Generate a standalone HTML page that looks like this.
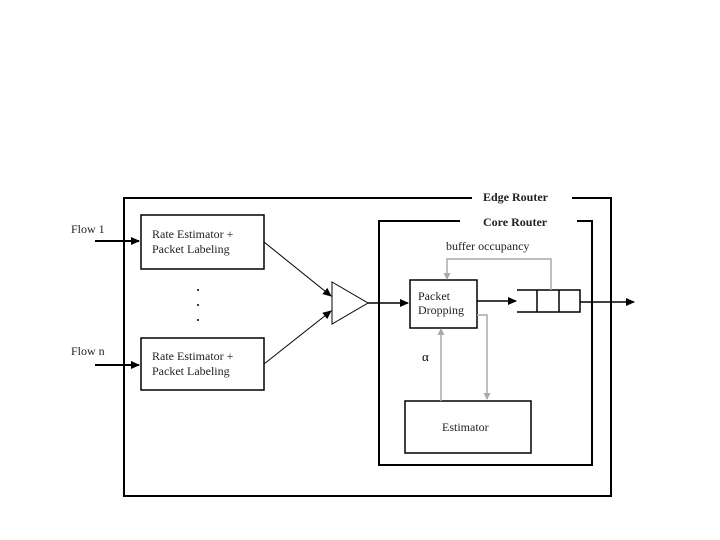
<!DOCTYPE html>
<html><head><style>body{margin:0;background:#fff}svg{display:block}text{font-family:"Liberation Serif",serif;font-size:12px;fill:#222}</style></head><body>
<svg width="720" height="540" viewBox="0 0 720 540">
<defs>
<marker id="a" markerWidth="9" markerHeight="8" refX="8" refY="4" orient="auto" markerUnits="userSpaceOnUse"><path d="M0,0L9,4L0,8Z" fill="#000"/></marker>
<marker id="g" markerWidth="7" markerHeight="7" refX="6" refY="3.5" orient="auto" markerUnits="userSpaceOnUse"><path d="M0,0L7,3.5L0,7Z" fill="#aaa"/></marker>
</defs>
<g fill="none" stroke="#000" stroke-width="2">
<path d="M472,198H124V496H611V198H572"/>
<path d="M460,221H379V465H592V221H577"/>
</g>
<rect fill="#fff" stroke="#000" stroke-width="1.5" x="141" y="215" width="123" height="54"/>
<rect fill="#fff" stroke="#000" stroke-width="1.5" x="141" y="338" width="123" height="52"/>
<rect fill="#fff" stroke="#000" stroke-width="1.5" x="410" y="280" width="67" height="48"/>
<rect fill="#fff" stroke="#000" stroke-width="1.5" x="405" y="401" width="126" height="52"/>
<path d="M332,282L368,303L332,324Z" fill="#fff" stroke="#000" stroke-width="1"/>
<g stroke="#000" stroke-width="1.5" fill="none">
<path d="M517,290H580V312H517M537,290V312M559,290V312"/>
<path d="M95,241H139" marker-end="url(#a)" stroke-width="2"/>
<path d="M95,365H139" marker-end="url(#a)" stroke-width="2"/>
<path d="M264,242L331,296" marker-end="url(#a)" stroke-width="1"/>
<path d="M264,364L331,311" marker-end="url(#a)" stroke-width="1"/>
<path d="M368,303H408" marker-end="url(#a)"/>
<path d="M477,301H516" marker-end="url(#a)"/>
<path d="M580,302H634" marker-end="url(#a)"/>
</g>
<g stroke="#aaa" stroke-width="1.5" fill="none">
<path d="M551,290V259H447V279" marker-end="url(#g)"/>
<path d="M477,315H487V399" marker-end="url(#g)"/>
<path d="M441,401V329" marker-end="url(#g)"/>
</g>
<text x="152" y="238">Rate Estimator +</text>
<text x="152" y="253">Packet Labeling</text>
<text x="152" y="360">Rate Estimator +</text>
<text x="152" y="375">Packet Labeling</text>
<text x="71" y="233">Flow 1</text>
<text x="71" y="355">Flow n</text>
<text x="418" y="300">Packet</text>
<text x="418" y="314">Dropping</text>
<text x="442" y="431">Estimator</text>
<text x="446" y="250">buffer occupancy</text>
<text x="483" y="201" font-weight="bold">Edge Router</text>
<text x="483" y="226" font-weight="bold">Core Router</text>
<text x="422" y="361" style="font-size:13px;fill:#000">α</text>
<g fill="#000"><circle cx="198" cy="290" r="1"/><circle cx="198" cy="305" r="1"/><circle cx="198" cy="320" r="1"/></g>
</svg>
</body></html>
